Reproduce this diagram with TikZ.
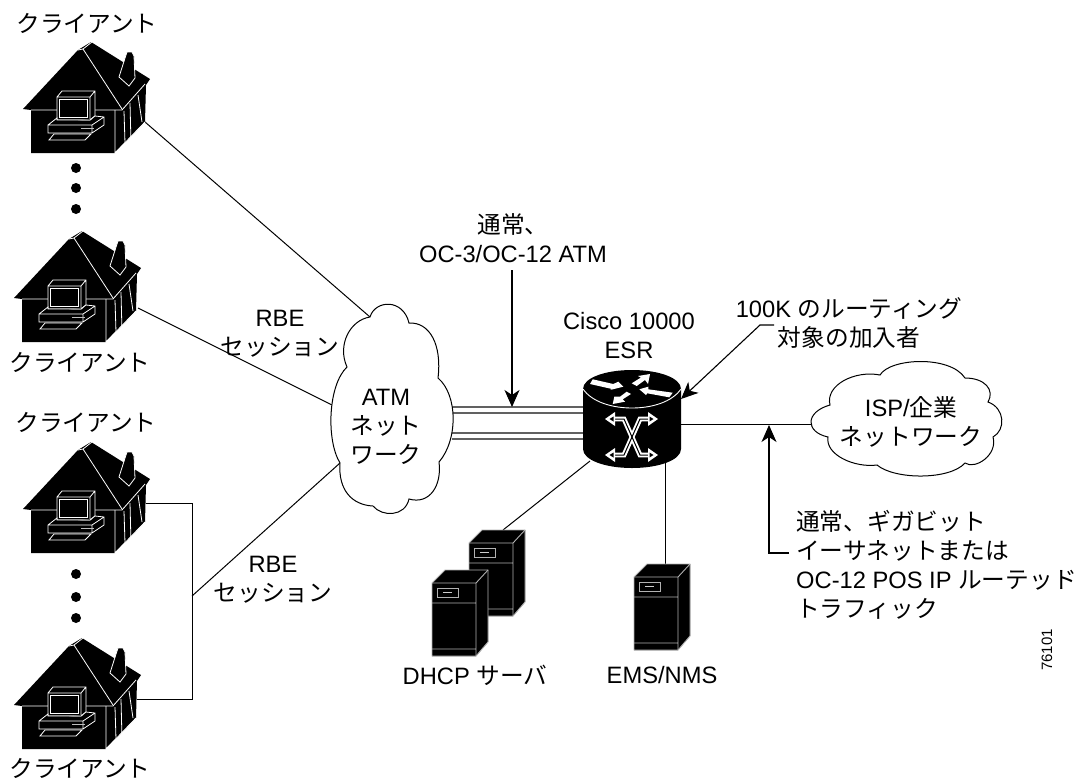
\documentclass[tikz,border=0pt]{standalone}
\usepackage{fontspec}
\setmainfont{Liberation Sans}
\newfontfamily\cjk{Noto Sans CJK JP}
\usetikzlibrary{arrows.meta}
\tikzset{
  lab/.style={inner sep=0pt,font=\fontsize{23.7}{29}\selectfont,align=center,text=black},
  labl/.style={lab,anchor=west,align=left},
  wire/.style={draw=black,line width=1pt},
  tipped/.style={wire,line width=1.1pt,-{Stealth[length=17pt,width=15pt,inset=5pt]}},
  trunk/.style={draw=black!62,line width=1.5pt},
  cloudline/.style={draw=black,line width=1pt,fill=white},
  wl/.style={draw=white,line width=.8pt},
  gl/.style={draw=black!30,line width=.9pt},
  dot/.style={circle,fill=black,inner sep=0pt,minimum size=10pt},
  pics/house/.style={code={
    \fill[black] (23,109)--(78,50)--(91,42)--(150,79)--(146,85)--(145,122)--(115,153)--(31,153)--(31,110)--cycle;
    \draw[wl] (31,110)--(57,110) (90,110)--(122,110)--(145,84);
    \draw[wl] (115,110)--(115,153)--(145,122);
    \draw[wl] (78,50)--(83,49)--(92,42) (83,49)--(122,109);
    \draw[wl] (124,111)--(125,143) (130,103)--(131,143)--(125,143)--(115,153) (138,95)--(142,122);
    \draw[wl,fill=black] (119,77)--(126,55)--(127,52)--(132,52)--(134,56)--(135,78)--(129,86)--cycle;
    \draw[wl,fill=black] (57,97)--(62,91)--(95,91)--(95,116)--(90,120)--(57,120)--cycle (57,97)--(90,97)--(95,91) (90,97)--(90,120);
    \draw[wl,fill=black] (59,99) rectangle (87,117);
    \draw[wl,fill=black] (48,125)--(57,118)--(57,120)--(90,120)--(95,116)--(104,117)--(104,125)--(92,133)--(48,133)--cycle (48,125)--(92,125)--(104,117) (92,125)--(92,133);
    \draw[draw=black!25,line width=1.5pt] (81,128.5)--(94,128.5);
    \draw[wl,fill=black] (54,134)--(91,134)--(85,140)--(49,140)--cycle;
  }},
  pics/server/.style={code={
    \fill[black] (469,543)--(482,530)--(525,530)--(525,602)--(513,616)--(469,616)--cycle;
    \draw[gl,fill=black] (469,543)--(482,530)--(525,530)--(525,602)--(513,616)--(469,616)--cycle;
    \draw[gl] (469,543)--(513,543)--(525,530) (513,543)--(513,616) (469,563)--(513,563) (469,609)--(513,609);
    \draw[gl] (474,548) rectangle (495,557);
    \draw[line width=1pt,draw=black!20] (480,552.5)--(489,552.5);
  }}
}
\begin{document}
\begin{tikzpicture}[x=1pt,y=-1pt]
\useasboundingbox (0,0) rectangle (1081,780);
\fill[white] (0,0) rectangle (1081,780);

% named end points
\coordinate (h1) at (145,122);
\coordinate (h2) at (138,308);
\coordinate (h3) at (146,503);
\coordinate (h4) at (137,699);
\coordinate (c3a) at (192,503);
\coordinate (c3b) at (192,699);
\coordinate (c3m) at (192,596);
\coordinate (atmA) at (370,317);
\coordinate (atmW) at (332,405);
\coordinate (atmG) at (340,463);
\coordinate (rtrTr1L) at (452,407); \coordinate (rtrTr1R) at (584,407);
\coordinate (rtrTr2L) at (452,413); \coordinate (rtrTr2R) at (584,413);
\coordinate (rtrTr3L) at (452,433); \coordinate (rtrTr3R) at (584,433);
\coordinate (rtrTr4L) at (452,439); \coordinate (rtrTr4R) at (584,439);
\coordinate (rtrE) at (681,424);
\coordinate (ispW) at (812,424);
\coordinate (rtrSW) at (590,461);
\coordinate (srvT) at (503,530);
\coordinate (rtrS) at (665,463);
\coordinate (emsT) at (665,564);
\coordinate (oc3a) at (512,270);
\coordinate (oc3b) at (512,407);
\coordinate (k1) at (774,325);
\coordinate (k2) at (760,325);
\coordinate (k3) at (681,399);
\coordinate (g1) at (789,553);
\coordinate (g2) at (769,553);
\coordinate (g3) at (769,425);

% connectors
\draw[wire] (h1) -- (atmA);
\draw[wire] (h2) -- (atmW);
\draw[wire] (h3) -- (c3a) -- (c3b) -- (h4);
\draw[wire] (c3m) -- (atmG);
\draw[trunk] (rtrTr1L) -- (rtrTr1R);
\draw[trunk] (rtrTr2L) -- (rtrTr2R);
\draw[trunk] (rtrTr3L) -- (rtrTr3R);
\draw[trunk] (rtrTr4L) -- (rtrTr4R);
\draw[wire] (rtrE) -- (ispW);
\draw[wire] (rtrSW) -- (srvT);
\draw[wire] (rtrS) -- (emsT);
\draw[tipped] (oc3a) -- (oc3b);
\draw[tipped] (k1) -- (k2) -- (k3);
\draw[tipped] (g1) -- (g2) -- (g3);

% houses
\pic at (0,0) {house};
\pic at (-9,189) {house};
\pic at (0,400) {house};
\pic at (-9,596) {house};
\node[dot] (d1) at (76,168) {};
\node[dot] (d2) at (76,188) {};
\node[dot] (d3) at (76,209) {};
\node[dot] (d4) at (76,574) {};
\node[dot] (d5) at (76,597) {};
\node[dot] (d6) at (76,618) {};

% ATM cloud
\path[cloudline] (370,317) .. controls (375,300) and (403,298) .. (409,323)
 .. controls (430,322) and (442,345) .. (438,378)
 .. controls (458,395) and (458,440) .. (439,462)
 .. controls (442,485) and (430,505) .. (409,499)
 .. controls (405,517) and (382,517) .. (373,506)
 .. controls (352,505) and (338,490) .. (340,463)
 .. controls (326,440) and (328,385) .. (347,367)
 .. controls (337,345) and (350,320) .. (370,317) -- cycle;

% ISP cloud
\path[cloudline] (830,405) .. controls (825,385) and (855,370) .. (880,375)
 .. controls (890,358) and (950,355) .. (965,378)
 .. controls (985,378) and (995,390) .. (988,402)
 .. controls (1005,408) and (1006,430) .. (993,437)
 .. controls (998,455) and (975,470) .. (965,463)
 .. controls (950,480) and (895,480) .. (877,465)
 .. controls (855,468) and (825,455) .. (828,437)
 .. controls (805,432) and (805,412) .. (830,405) -- cycle;

% router
\fill[black] (583,389) .. controls (583,378) and (605,370) .. (632,370)
  .. controls (659,370) and (681,378) .. (681,389) -- (681,449)
  .. controls (681,460) and (659,468) .. (632,468)
  .. controls (605,468) and (583,460) .. (583,449) -- cycle;
\draw[white,line width=.9pt] (583,389) .. controls (592,402) and (612,408) .. (632,408) .. controls (652,408) and (672,402) .. (681,389);
\fill[white] (592.7,379.3)--(613.3,384)--(618.3,381.7)--(623.3,386.7)--(610,390)--(612,389)--(590,384)--cycle;
\fill[white] (631.7,383.3)--(641,377.5)--(638,376)--(650,374)--(648,384)--(645,380)--(636.7,386)--cycle;
\fill[white] (672.7,392.7)--(648.3,389.3)--(648.3,386.7)--(639.3,389.3)--(646,395)--(647.3,393.3)--(669.3,397.3)--cycle;
\fill[white] (626.7,391.7)--(620,396.7)--(614.3,396.7)--(612.7,404)--(625,401.7)--(622.7,399.3)--(631,394)--cycle;
\foreach \lay/\lw in {white/4.8,black/1.0}{
  \draw[\lay,line width=\lw pt,line join=miter] (610,419)--(624,419)--(640,455)--(653,455);
  \draw[\lay,line width=\lw pt,line join=miter] (653,419)--(640,419)--(624,455)--(610,455);
}
\foreach \yy in {419,455}{
  \fill[white] (605,\yy)--(615,\yy-7)--(615,\yy+7)--cycle;
  \fill[black] (609.5,\yy)--(613.5,\yy-2.5)--(613.5,\yy+2.5)--cycle;
  \fill[white] (658,\yy)--(648,\yy-7)--(648,\yy+7)--cycle;
  \fill[black] (653.5,\yy)--(649.5,\yy-2.5)--(649.5,\yy+2.5)--cycle;
}

% servers
\pic at (0,0) {server};
\pic at (-37,40) {server};
\pic at (165,34) {server};

% labels
\node[lab] (cl1) at (87,23) {\cjk クライアント};
\node[lab] (cl2) at (80,362) {\cjk クライアント};
\node[lab] (cl3) at (86,422) {\cjk クライアント};
\node[lab] (cl4) at (80,768) {\cjk クライアント};
\node[lab] (rbe1) at (280,334) {RBE\\{\cjk セッション}};
\node[lab] (rbe2) at (273,580) {RBE\\{\cjk セッション}};
\node[lab] (atm) at (386,427) {ATM\\{\cjk ネット}\\{\cjk ワーク}};
\node[lab] (oc3) at (513,238) {{\cjk 通常、}\\OC-3/OC-12 ATM};
\node[lab] (esr) at (629,336) {Cisco 10000\\ESR};
\node[lab] (subs) at (849,323.5) {100K {\cjk のルーティング}\\{\cjk 対象の加入者}};
\node[lab] (isp) at (911,421.5) {ISP/{\cjk 企業}\\{\cjk ネットワーク}};
\node[labl] (ge) at (796,565) {{\cjk 通常、ギガビット}\\{\cjk イーサネットまたは}\\OC-12 POS IP {\cjk ルーテッド}\\{\cjk トラフィック}};
\node[lab] (dhcp) at (475,675) {DHCP {\cjk サーバ}};
\node[lab] (ems) at (662,675) {EMS/NMS};
\node[lab,font=\fontsize{15}{16}\selectfont,rotate=90] (num) at (1047,650) {76101};
\end{tikzpicture}
\end{document}
